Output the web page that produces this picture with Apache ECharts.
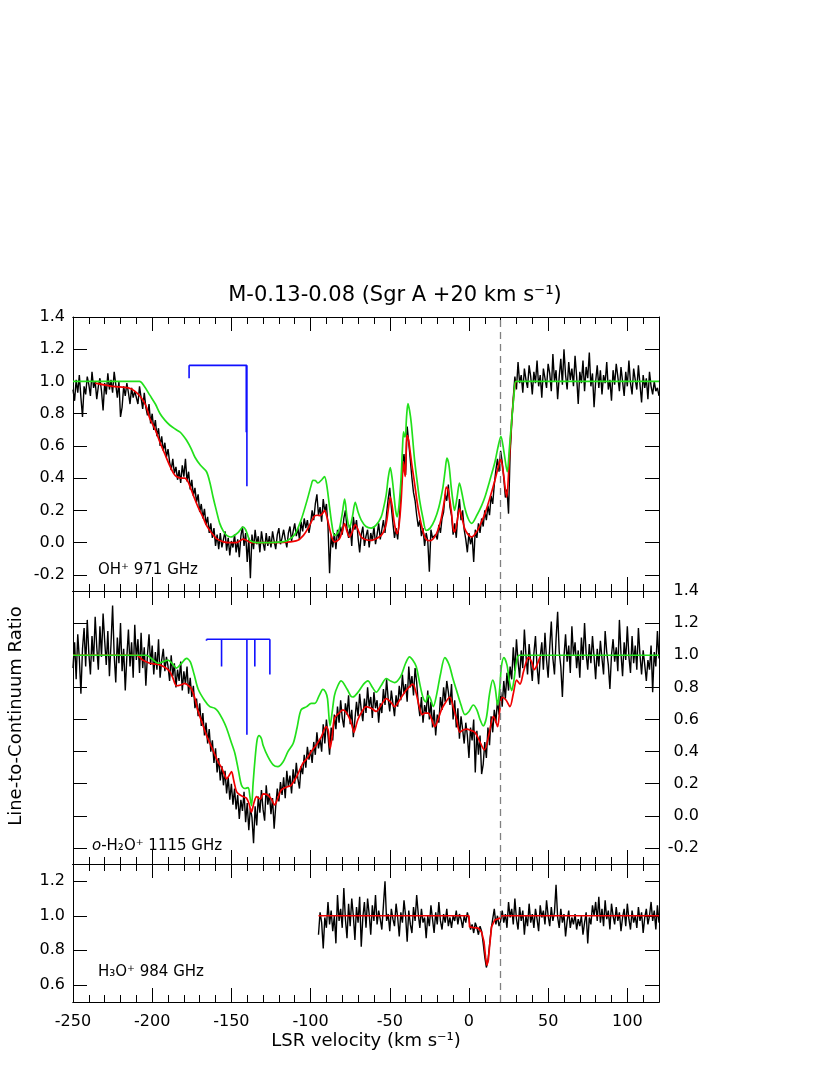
<!DOCTYPE html>
<html>
<head>
<meta charset="utf-8">
<script src="https://cdn.jsdelivr.net/npm/echarts@6/dist/echarts.min.js"></script>
<style>
  html, body { margin: 0; padding: 0; background: #fff; }
  #chart { width: 830px; height: 1075px; }
</style>
</head>
<body>
<div id="chart"></div>
<script>
// velocity grid (km/s) of the observed spectra, 1 km/s channels
const ohStart = -250;
const h2oStart = -250;
const h3oStart = -95;

// OH+ 971 GHz, observed line-to-continuum ratio (x100), -250..120
const ohObs = [
  95,88,101,93,104,90,78,97,92,103, 98,91,106,96,100,89,97,102,94,82,
  99,92,105,95,101,93,106,98,90,100, 78,84,97,91,99,93,86,96,90,94,
  95,86,97,90,83,93,84,79,86,74, 80,70,76,66,71,60,66,57,62,53,
  58,50,45,52,43,47,39,45,37,48, 41,52,38,44,33,39,29,34,25,30,
  19,24,15,21,11,16,6,12,3,9, -2,5,-4,6,-3,2,7,-5,3,-8,
  1,-3,5,-6,2,-9,4,10,-2,6, -12,3,-22,5,-4,8,-1,4,-6,7,
  0,-5,6,-2,4,-3,7,1,-4,5, 9,-1,3,8,2,-3,6,10,1,7,
  12,4,9,2,13,7,15,9,14,6, 12,20,14,24,30,17,22,13,27,19,
  24,10,-19,5,-3,6,-4,8,2,10, 5,15,20,9,3,11,-2,16,8,14,
  3,-6,5,10,-2,4,8,-3,6,1, 10,-1,5,12,2,8,14,6,18,27,
  34,22,12,3,9,2,14,30,48,55, 42,72,62,51,40,31,26,17,10,14,
  4,9,-2,6,1,-18,8,3,2,5, 2,11,6,15,19,30,26,36,22,17,
  5,12,3,18,27,14,20,8,2,-6, 6,-1,4,-12,8,3,12,6,15,10,
  20,14,23,17,29,24,36,45,52,44, 57,50,40,28,33,18,55,74,90,103,
  95,112,99,104,93,108,101,96,110,103, 92,106,99,113,97,104,90,108,102,96,
  111,105,94,117,100,107,89,103,114,98, 120,104,95,112,101,108,97,116,103,86,
  106,99,113,94,109,102,118,97,105,84, 100,110,96,107,92,104,99,112,95,101,
  88,107,98,111,103,94,109,100,91,106, 97,113,99,92,108,101,95,110,98,87,
  104,96,102,89,106,97,92,100,94,96,91
];

// o-H2O+ 1115 GHz, observed ratio (x100), -250..120
const h2oObs = [
  92,108,85,113,98,76,104,117,93,122, 101,88,112,96,124,105,91,118,99,126,
  109,94,115,87,107,131,100,83,111,95, 120,90,104,78,99,116,93,108,86,119,
  97,110,89,114,92,105,81,100,113,94, 106,88,102,91,110,86,97,104,90,99,
  93,84,100,87,95,80,91,84,96,78, 90,82,93,76,86,74,81,67,73,62,
  70,56,64,50,58,45,54,40,47,33, 42,27,36,22,31,19,28,14,24,10,
  20,7,17,4,13,-2,10,3,15,-4, 8,-9,5,-1,-17,6,-6,12,2,16,
  4,-3,19,7,14,1,11,-8,6,17, 9,21,13,24,11,28,18,25,14,29,
  20,33,23,17,31,26,38,30,43,35, 41,33,46,38,52,42,48,40,57,45,
  60,50,38,55,47,63,54,68,58,72, 61,55,70,63,75,57,66,49,60,71,
  62,76,66,59,73,64,80,68,74,61, 77,67,72,58,70,64,79,69,85,73,
  65,78,70,62,75,68,81,72,88,76, 82,71,93,80,87,75,92,83,70,62,
  74,58,69,64,78,60,71,55,66,50, 63,58,74,66,80,71,84,77,69,82,
  60,72,55,67,48,62,54,45,58,50, 36,55,47,60,27,53,38,50,26,32,
  46,36,55,44,62,52,66,58,72,63, 77,68,84,73,89,78,93,85,105,90,
  110,96,86,103,92,116,100,88,107,95, 84,101,112,93,82,99,108,91,114,97,
  86,105,121,98,88,110,127,102,93,74, 99,113,96,106,89,118,100,108,92,103,
  86,111,97,120,101,91,107,95,112,99, 85,104,93,109,98,88,115,102,94,79,
  100,110,96,105,90,122,101,87,108,97, 118,99,89,112,95,106,91,117,100,88,
  103,94,84,97,91,106,77,102,93,115,98
];

// H3O+ 984 GHz, observed ratio (x100), -95..120
const h3oObs = [
  89,102,96,81,99,93,108,95,103,91, 100,84,112,97,104,93,116,98,87,107,
  94,110,100,86,105,96,111,82,99,108, 93,110,101,89,106,97,112,95,103,98,
  92,106,120,97,101,91,104,98,94,107, 99,88,102,96,109,100,85,103,95,90,
  105,97,112,101,93,104,96,99,87,100, 94,106,98,90,102,95,108,97,92,101,
  96,104,94,99,93,100,97,103,95,101, 98,93,100,96,102,98,92,95,90,96,
  93,89,94,91,84,76,70,74,83,92, 98,104,95,100,94,97,103,96,101,93,
  108,99,104,95,110,98,92,105,97,103, 89,100,94,107,96,101,93,104,98,91,
  106,99,103,95,109,100,94,105,97,102, 118,99,93,104,96,101,88,97,103,93,
  99,95,101,92,98,94,100,89,96,102, 84,99,95,106,100,108,97,111,96,104,
  94,109,98,103,92,107,100,95,105,97, 102,91,99,104,94,107,98,92,103,96,
  100,93,105,97,102,90,99,104,95,100, 108,97,103,92,106,96
];

// model fits [velocity, ratio]: red = fit, green = fit without foreground
const ohFit = [[-236,0.99],[-225,0.97],[-215,0.96],[-211,0.94],[-207,0.90],[-204,0.85],[-201.5,0.77],[-198,0.70],[-195,0.62],[-192,0.55],[-189,0.48],[-186.5,0.43],[-184.7,0.41],[-182,0.40],[-179.4,0.40],[-177.5,0.38],[-176,0.345],[-173.5,0.28],[-171,0.22],[-168,0.16],[-165.7,0.107],[-162.5,0.06],[-159.4,0.025],[-155,0.005],[-151,0.0],[-147,0.0],[-144.5,0.012],[-142.6,0.022],[-140.5,0.015],[-137.3,0.0],[-127,0.0],[-115,0.003],[-108,0.015],[-104.5,0.045],[-101.7,0.087],[-99.5,0.13],[-97.5,0.165],[-95.8,0.17],[-94.3,0.168],[-92.5,0.18],[-91.2,0.20],[-89.7,0.16],[-88,0.087],[-86.5,0.03],[-84.9,0.004],[-83.3,0.01],[-81.7,0.025],[-80,0.07],[-78.5,0.118],[-77,0.07],[-75.4,0.035],[-73.6,0.07],[-71.8,0.112],[-70,0.08],[-68,0.035],[-65,0.018],[-61.7,0.014],[-58.5,0.025],[-55.4,0.045],[-53.8,0.07],[-52.2,0.118],[-51,0.2],[-49.7,0.283],[-48.5,0.23],[-47.4,0.14],[-46.3,0.08],[-45.3,0.056],[-44,0.12],[-42.8,0.263],[-41.8,0.45],[-41.3,0.50],[-40.7,0.44],[-40.2,0.41],[-39.7,0.55],[-39.2,0.666],[-38.4,0.65],[-37.5,0.594],[-36,0.48],[-34.3,0.366],[-32.7,0.25],[-31.1,0.16],[-29,0.07],[-27,0.02],[-24.5,0.012],[-21.7,0.035],[-19.5,0.08],[-17.5,0.15],[-15.5,0.26],[-14.3,0.345],[-13.2,0.33],[-11.2,0.20],[-10,0.09],[-9.1,0.066],[-7.5,0.13],[-5.9,0.21],[-4.3,0.15],[-2.7,0.087],[-0.5,0.05],[1.7,0.035],[5,0.07],[8,0.13],[10.1,0.18],[13,0.27],[16.4,0.387],[18.5,0.47],[20,0.52],[21.5,0.45],[23.8,0.283],[25.3,0.48],[27,0.76],[28.5,0.93],[29.7,1.0],[30.5,1.0]];
const ohNoFg = [[-250,1.0],[-208,1.0],[-205,0.97],[-201.5,0.915],[-198,0.86],[-195,0.80],[-192,0.76],[-189,0.73],[-185.5,0.705],[-182.6,0.687],[-180.5,0.665],[-178.3,0.635],[-175.5,0.585],[-173,0.53],[-169.5,0.48],[-165.7,0.44],[-163.5,0.37],[-161.5,0.28],[-159.5,0.2],[-157.3,0.118],[-155,0.07],[-153,0.045],[-150.5,0.035],[-148.9,0.04],[-146,0.06],[-144,0.085],[-142.6,0.097],[-141,0.08],[-139.5,0.04],[-138.4,0.014],[-134,0.0],[-127,0.0],[-118,0.005],[-114.3,0.015],[-110,0.05],[-106,0.14],[-102,0.27],[-99.5,0.36],[-98.5,0.387],[-97,0.385],[-95.4,0.37],[-93,0.39],[-91.2,0.41],[-89.7,0.35],[-88,0.22],[-86.5,0.11],[-84.9,0.045],[-83.3,0.055],[-81.7,0.09],[-80,0.18],[-78.5,0.27],[-77,0.16],[-75.4,0.09],[-73.6,0.16],[-71.8,0.25],[-70,0.19],[-68,0.14],[-65,0.1],[-61.7,0.09],[-58.5,0.11],[-55.4,0.16],[-53.8,0.22],[-52.2,0.30],[-51,0.40],[-49.7,0.466],[-48.5,0.4],[-47.4,0.30],[-46.3,0.2],[-45.3,0.16],[-44,0.25],[-42.8,0.41],[-42,0.58],[-41.3,0.687],[-40.7,0.66],[-40.2,0.656],[-39.4,0.78],[-38.5,0.863],[-37.5,0.82],[-36.4,0.74],[-34.3,0.51],[-32.7,0.38],[-31.1,0.26],[-29,0.15],[-27,0.076],[-24.5,0.09],[-21.7,0.14],[-19,0.22],[-16.4,0.345],[-15,0.45],[-13.9,0.525],[-12.6,0.48],[-11.2,0.345],[-10,0.25],[-9.1,0.20],[-7.5,0.28],[-6,0.37],[-4.3,0.3],[-2.7,0.22],[-0.5,0.15],[1.7,0.12],[5,0.17],[8,0.23],[10.1,0.283],[13,0.38],[16.4,0.50],[18.5,0.6],[20.2,0.66],[22,0.57],[24.2,0.44],[25.5,0.58],[27,0.76],[28.5,0.92],[29.7,1.0],[120,1.0]];

const h2oFit = [[-250,1.0],[-210,1.0],[-206,0.97],[-201.5,0.95],[-198,0.945],[-195.2,0.94],[-192,0.925],[-189,0.90],[-187,0.86],[-184.7,0.81],[-182,0.815],[-179.4,0.825],[-177,0.81],[-175.2,0.79],[-173,0.73],[-171,0.65],[-168.5,0.58],[-165.7,0.50],[-163,0.44],[-160.4,0.38],[-158,0.33],[-156.2,0.30],[-154.5,0.26],[-153,0.23],[-151.5,0.25],[-149.9,0.275],[-148.5,0.22],[-146.7,0.15],[-144.5,0.13],[-142.6,0.12],[-140.5,0.11],[-139,0.08],[-137.3,0.023],[-135.8,0.08],[-134.1,0.12],[-132.8,0.11],[-131.6,0.106],[-129.9,0.137],[-127,0.13],[-124.5,0.1],[-122.8,0.068],[-121,0.1],[-118.6,0.16],[-115,0.18],[-112.3,0.19],[-108.5,0.25],[-104.9,0.327],[-102,0.36],[-99.6,0.40],[-96.5,0.44],[-93.3,0.49],[-90.1,0.555],[-88.8,0.53],[-87.6,0.42],[-86.3,0.5],[-84.9,0.607],[-82,0.64],[-79.6,0.66],[-77.5,0.645],[-75.4,0.607],[-73.8,0.56],[-72.6,0.52],[-71.3,0.56],[-70.1,0.60],[-67.5,0.65],[-64.9,0.68],[-61.7,0.67],[-58.6,0.65],[-55.4,0.69],[-52.2,0.73],[-49.5,0.71],[-46.9,0.68],[-43.8,0.72],[-40.6,0.77],[-38,0.8],[-35.4,0.82],[-33.5,0.77],[-31.1,0.67],[-29.5,0.63],[-28,0.64],[-25.7,0.64],[-23.5,0.6],[-21.6,0.555],[-19.5,0.6],[-17.4,0.66],[-14.5,0.71],[-12.1,0.74],[-10,0.68],[-8,0.607],[-5.7,0.52],[-3.8,0.534],[-1,0.54],[0.6,0.534],[3.8,0.52],[6.5,0.47],[9.7,0.41],[12.5,0.5],[15.4,0.62],[16.8,0.59],[18.1,0.555],[19.5,0.66],[21,0.737],[23.5,0.72],[25.9,0.68],[28,0.76],[30.1,0.845],[32.2,0.82],[34.5,0.9],[37.5,0.985],[39.5,0.96],[41.3,0.91],[43,0.94],[44.9,0.99]];
const h2oNoFg = [[-250,1.0],[-203.6,1.0],[-200,0.975],[-196.3,0.95],[-193,0.96],[-190,0.97],[-187.5,0.95],[-184.7,0.92],[-181.5,0.95],[-178.3,0.98],[-176,0.96],[-173.5,0.88],[-171,0.79],[-167,0.72],[-163.6,0.68],[-160.5,0.67],[-158.4,0.65],[-155.5,0.6],[-153,0.545],[-150.5,0.47],[-147.8,0.39],[-145.5,0.28],[-143.6,0.19],[-141.5,0.17],[-139.4,0.176],[-138.3,0.12],[-137.3,0.064],[-136.3,0.2],[-135.2,0.337],[-133.8,0.47],[-132.5,0.50],[-131,0.48],[-130,0.44],[-127,0.37],[-123.6,0.317],[-120.7,0.306],[-117.3,0.337],[-114.3,0.40],[-111,0.45],[-108.5,0.55],[-106,0.66],[-102.5,0.68],[-99.6,0.70],[-97.3,0.70],[-94.5,0.75],[-92.2,0.787],[-90.5,0.77],[-89.3,0.73],[-87.7,0.56],[-86.3,0.65],[-84.9,0.75],[-82.8,0.81],[-80.7,0.84],[-77,0.79],[-74.5,0.745],[-73.3,0.74],[-70,0.77],[-66.5,0.82],[-63.8,0.84],[-61,0.8],[-58.5,0.77],[-55.5,0.81],[-52.2,0.855],[-49.5,0.84],[-46.9,0.83],[-43,0.87],[-40,0.95],[-37.5,0.99],[-35.5,0.97],[-33.3,0.93],[-31,0.82],[-29.1,0.74],[-27.3,0.71],[-25.7,0.75],[-24.3,0.73],[-22.5,0.68],[-20.5,0.75],[-18,0.88],[-15.2,0.985],[-12.5,0.94],[-10,0.85],[-7.8,0.78],[-5,0.69],[-2.5,0.63],[0,0.65],[2.7,0.69],[5,0.66],[7,0.6],[9,0.56],[11,0.61],[13,0.76],[15,0.845],[16.5,0.8],[18.1,0.69],[19.5,0.8],[20.5,0.93],[22.1,0.985],[24,0.94],[25.5,0.84],[27,0.78],[28.5,0.85],[30,0.96],[31.8,1.0],[120,1.0]];

const h3oFit = [[-95,1.0],[0,1.0],[0.4,0.935],[3,0.931],[6,0.928],[8,0.905],[9.5,0.85],[10.5,0.76],[11.3,0.712],[12.2,0.74],[13,0.82],[14.3,0.937],[16.4,0.976],[19.6,0.986],[20.4,1.0],[120,1.0]];

// hyperfine component markers: velocities and stick ends, bar level
const combLevel = 1.1;
const ohCombV = [-176.7, -140.6, -140.2];
const ohCombY = [1.02, 0.685, 0.35];
const h2oCombV = [-165.7, -156.2, -140.2, -135.2, -125.7];
const h2oCombY = [1.09, 0.93, 0.505, 0.93, 0.88];

// axes
const xMajor = [-250, -200, -150, -100, -50, 0, 50, 100];
const xMinor = [];
for (let v = -250; v <= 120; v += 10) xMinor.push(v);
const yTicksWide = [-0.2, 0, 0.2, 0.4, 0.6, 0.8, 1.0, 1.2, 1.4];
const yTicksH3o = [0.6, 0.8, 1.0, 1.2];
const sourceVel = 20;

const FONT = '"DejaVu Sans", Verdana, sans-serif';

function toPairs(start, vals) {
  return vals.map((v, i) => [start + i, v / 100]);
}

const grids = [
  { left: 73, width: 586, top: 317, height: 274, outerBoundsMode: 'none' },
  { left: 73, width: 586, top: 591, height: 273, outerBoundsMode: 'none' },
  { left: 73, width: 586, top: 864, height: 138, outerBoundsMode: 'none' }
];
const yRange = [[-0.3, 1.4], [-0.3, 1.4], [0.5, 1.3]];
const yTickSets = [yTicksWide, yTicksWide, yTicksH3o];
const yLabelSide = ['left', 'right', 'left'];

const xAxes = [];
const yAxes = [];
const xIdx = [];
const yIdx = [];

function addX(g, pos, ticks, len, withLabels) {
  xAxes.push({
    type: 'value', gridIndex: g, position: pos, min: -250, max: 120,
    axisLine: { show: true, onZero: false, lineStyle: { color: '#000', width: 1 } },
    axisTick: { show: true, inside: true, length: len, customValues: ticks,
                lineStyle: { color: '#000', width: 1 } },
    axisLabel: withLabels
      ? { show: true, customValues: xMajor, margin: 12, color: '#000', fontSize: 16, fontFamily: FONT }
      : { show: false },
    splitLine: { show: false }
  });
  return xAxes.length - 1;
}

function addY(g, pos, withLabels) {
  const lab = { show: false };
  if (withLabels) {
    Object.assign(lab, {
      show: true, customValues: yTickSets[g], color: '#000', fontSize: 16, fontFamily: FONT,
      formatter: v => v.toFixed(1)
    });
    if (pos === 'right') { lab.align = 'right'; lab.margin = 40; } else { lab.margin = 8; }
  }
  yAxes.push({
    type: 'value', gridIndex: g, position: pos, min: yRange[g][0], max: yRange[g][1],
    axisLine: { show: true, onZero: false, lineStyle: { color: '#000', width: 1 } },
    axisTick: { show: true, inside: true, length: 14, customValues: yTickSets[g],
                lineStyle: { color: '#000', width: 1 } },
    axisLabel: lab,
    splitLine: { show: false }
  });
  return yAxes.length - 1;
}

for (let g = 0; g < 3; g++) {
  xIdx.push(addX(g, 'bottom', xMajor, 14, g === 2));
  addX(g, 'bottom', xMinor, 7, false);
  addX(g, 'top', xMajor, 14, false);
  addX(g, 'top', xMinor, 7, false);
  yIdx.push(addY(g, 'left', yLabelSide[g] === 'left'));
  addY(g, 'right', yLabelSide[g] === 'right');
}

function lineSeries(g, data, color, width, smooth, extra) {
  return Object.assign({
    type: 'line', xAxisIndex: xIdx[g], yAxisIndex: yIdx[g], data: data,
    showSymbol: false, symbol: 'none', smooth: smooth, clip: true,
    lineStyle: { color: color, width: width }, itemStyle: { color: color },
    silent: true
  }, extra || {});
}

const dashed = {
  markLine: {
    silent: true, symbol: 'none', label: { show: false },
    lineStyle: { color: '#808080', width: 1.3, type: [7, 5] },
    data: [{ xAxis: sourceVel }]
  }
};

function combSeries(g, vs, ys) {
  const out = [];
  const lo = Math.min(...vs), hi = Math.max(...vs);
  out.push(lineSeries(g, [[lo, combLevel], [hi, combLevel]], '#1010ff', 1.6, false));
  vs.forEach((v, i) => {
    out.push(lineSeries(g, [[v, combLevel], [v, ys[i]]], '#1010ff', 1.6, false));
  });
  return out;
}

const series = [
  lineSeries(0, toPairs(ohStart, ohObs), '#000', 1.4, false, dashed),
  lineSeries(0, ohFit, '#f00000', 1.7, 0.3),
  lineSeries(0, ohNoFg, '#22e01b', 1.7, 0.3),
  ...combSeries(0, ohCombV, ohCombY),
  lineSeries(1, toPairs(h2oStart, h2oObs), '#000', 1.4, false, dashed),
  lineSeries(1, h2oFit, '#f00000', 1.7, 0.3),
  lineSeries(1, h2oNoFg, '#22e01b', 1.7, 0.3),
  ...combSeries(1, h2oCombV, h2oCombY),
  lineSeries(2, toPairs(h3oStart, h3oObs), '#000', 1.4, false, dashed),
  lineSeries(2, h3oFit, '#f00000', 1.7, false)
];

const txt = (x, y, text, size, extra) => ({
  type: 'text', x: x, y: y, silent: true,
  style: Object.assign({
    text: text, fill: '#000', fontSize: size, fontFamily: FONT,
    align: 'left', verticalAlign: 'middle'
  }, extra || {})
});

const chart = echarts.init(document.getElementById('chart'));
chart.setOption({
  animation: false,
  backgroundColor: '#fff',
  grid: grids,
  xAxis: xAxes,
  yAxis: yAxes,
  series: series,
  graphic: [
    txt(395, 296, 'M-0.13-0.08 (Sgr A +20 km s⁻¹)', 21, { align: 'center' }),
    txt(98, 570, 'OH⁺ 971 GHz', 15),
    txt(92, 846, '{i|o}-H₂O⁺ 1115 GHz', 15, {
      rich: { i: { fontStyle: 'italic', fontSize: 15, fontFamily: FONT, fill: '#000' } }
    }),
    txt(98, 972, 'H₃O⁺ 984 GHz', 15),
    txt(366, 1041, 'LSR velocity (km s⁻¹)', 18, { align: 'center' }),
    Object.assign(txt(16, 716, 'Line-to-Continuum Ratio', 18, { align: 'center' }), { rotation: Math.PI / 2 })
  ]
});
</script>
</body>
</html>
